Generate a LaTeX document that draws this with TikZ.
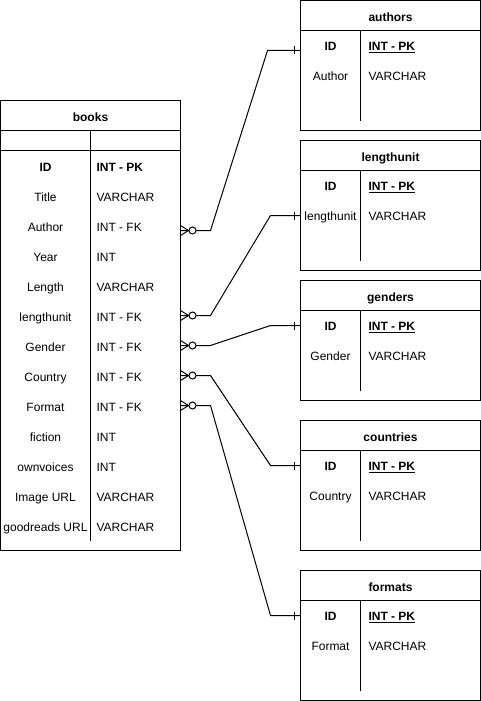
\documentclass[tikz,border=0pt]{standalone}
\usepackage{fontspec}
\setmainfont{Liberation Sans}
\newcommand\erlink[3]{%
  \draw (#1) -- ++(30,0) -- ([xshift=-#3pt]#2) -- (#2);
  \draw ([xshift=8pt]#1) -- ([yshift=5pt]#1) ([xshift=8pt]#1) -- ([yshift=-5pt]#1);
  \draw[fill=white] ([xshift=12pt]#1) circle[radius=3.5pt];
  \draw ([xshift=-6pt,yshift=4pt]#2) -- ([xshift=-6pt,yshift=-4pt]#2);
}
\newcommand\ertable[6]{% name, top, height, title, field, type
  \node[tbl, minimum height=#3pt] (#1) at (300,#2) {};
  \draw ([yshift=-30pt]#1.north west) -- ([yshift=-30pt]#1.north east);
  \draw ([xshift=60pt,yshift=-30pt]#1.north west) -- ([xshift=60pt,yshift=-#3pt+10pt]#1.north west);
  \node[hd] (#1-title) at ({390},{#2+16.5}) {#4};
  \node[lc] (#1-id) at ({330},{#2+45.5}) {\bfseries ID};
  \node[rc] (#1-idt) at ({368},{#2+45.5}) {\bfseries\underline{INT - PK}};
  \node[lc] (#1-f) at ({330},{#2+75.5}) {#5};
  \node[rc] (#1-ft) at ({368},{#2+75.5}) {#6};
}
\begin{document}
\begin{tikzpicture}[x=1pt,y=-1pt,line width=1pt,
  every node/.style={font=\fontsize{12}{14}\selectfont,inner sep=0pt,outer sep=0pt,text height=8.6pt,text depth=0pt},
  tbl/.style={draw,fill=white,rectangle,anchor=north west,minimum width=180pt,inner sep=0pt,outer sep=0pt,text height=,text depth=},
  hd/.style={font=\fontsize{12}{14}\selectfont\bfseries},
  lc/.style={anchor=center},
  rc/.style={anchor=west}]
\useasboundingbox (-0.5,-0.5) rectangle (480.5,700.5);

% books table
\node[tbl,minimum height=450pt] (books) at (0,100) {};
\draw ([yshift=-30pt]books.north west) -- ([yshift=-30pt]books.north east);
\draw ([yshift=-50pt]books.north west) -- ([yshift=-50pt]books.north east);
\draw ([xshift=90pt,yshift=-30pt]books.north west) -- ([xshift=90pt,yshift=-440pt]books.north west);
\node[hd] (books-title) at (90,117) {books};
\node[lc] (b1) at (45,166.5) {\bfseries ID};            \node[rc] (b1t) at (96,166.5) {\bfseries INT - PK};
\node[lc] (b2) at (45,196.5) {Title};                   \node[rc] (b2t) at (96,196.5) {VARCHAR};
\node[lc] (b3) at (45,226.5) {Author};                  \node[rc] (b3t) at (96,226.5) {INT - FK};
\node[lc] (b4) at (45,256.5) {Year};                    \node[rc] (b4t) at (96,256.5) {INT};
\node[lc] (b5) at (45,286.5) {Length};                  \node[rc] (b5t) at (96,286.5) {VARCHAR};
\node[lc] (b6) at (45,316.5) {lengthunit};              \node[rc] (b6t) at (96,316.5) {INT - FK};
\node[lc] (b7) at (45,346.5) {Gender};                  \node[rc] (b7t) at (96,346.5) {INT - FK};
\node[lc] (b8) at (45,376.5) {Country};                 \node[rc] (b8t) at (96,376.5) {INT - FK};
\node[lc] (b9) at (45,406.5) {Format};                  \node[rc] (b9t) at (96,406.5) {INT - FK};
\node[lc] (b10) at (45,436.5) {fiction};                \node[rc] (b10t) at (96,436.5) {INT};
\node[lc] (b11) at (45,466.5) {ownvoices};              \node[rc] (b11t) at (96,466.5) {INT};
\node[lc] (b12) at (45,496.5) {Image URL};              \node[rc] (b12t) at (96,496.5) {VARCHAR};
\node[lc] (b13) at (45,526.5) {goodreads URL};          \node[rc] (b13t) at (96,526.5) {VARCHAR};

% right tables
\ertable{authors}{0}{130}{authors}{Author}{VARCHAR}
\ertable{lengthunit}{140}{130}{lengthunit}{lengthunit}{VARCHAR}
\ertable{genders}{280}{120}{genders}{Gender}{VARCHAR}
\ertable{countries}{420}{130}{countries}{Country}{VARCHAR}
\ertable{formats}{570}{130}{formats}{Format}{VARCHAR}

% connector ends
\coordinate (fkA) at (books.east |- 0,230);
\coordinate (fkL) at (books.east |- 0,315);
\coordinate (fkG) at (books.east |- 0,345);
\coordinate (fkC) at (books.east |- 0,375);
\coordinate (fkF) at (books.east |- 0,405);
\coordinate (pkA) at (authors.west |- 0,50);
\coordinate (pkL) at (lengthunit.west |- 0,215);
\coordinate (pkG) at (genders.west |- 0,325);
\coordinate (pkC) at (countries.west |- 0,465);
\coordinate (pkF) at (formats.west |- 0,615);

\erlink{fkA}{pkA}{33}
\erlink{fkL}{pkL}{30}
\erlink{fkG}{pkG}{30}
\erlink{fkC}{pkC}{30}
\erlink{fkF}{pkF}{30}
\end{tikzpicture}
\end{document}
